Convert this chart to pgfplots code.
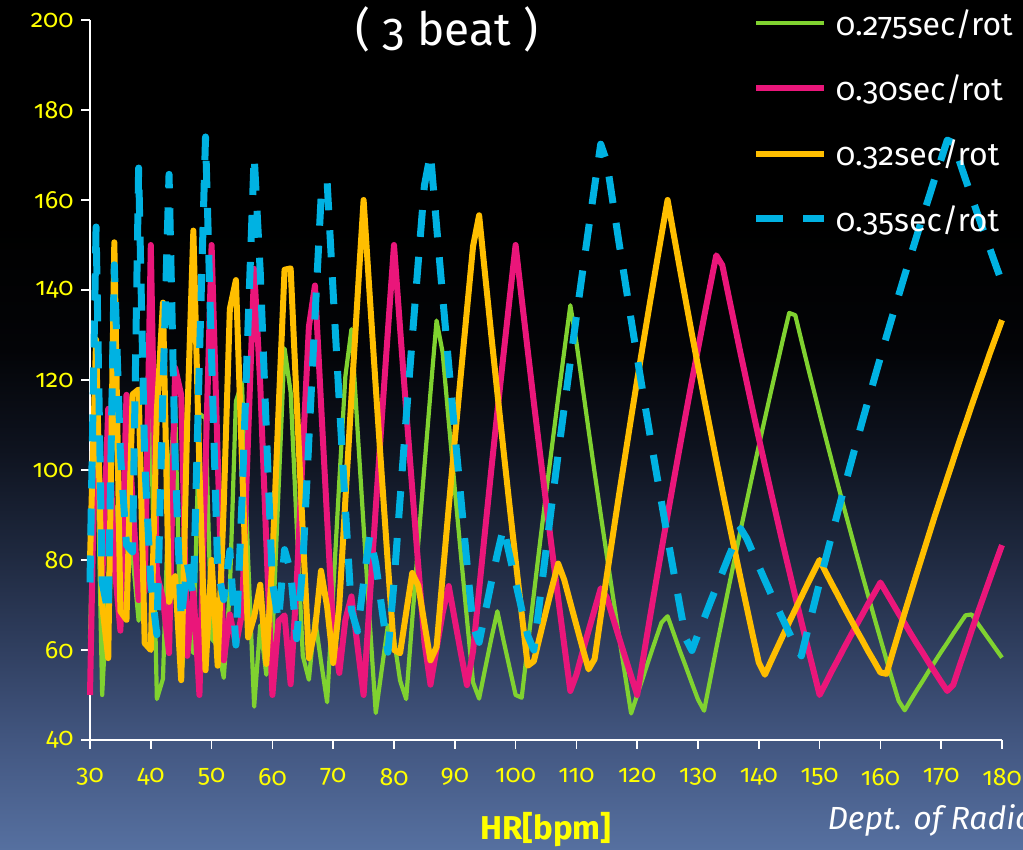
\documentclass[border=0pt]{standalone}
\usepackage{pgfplots}
\pgfplotsset{compat=1.18}
\usepackage{pgfplotstable}
\usepackage{fontspec}
\setmainfont{Fira Sans}[Numbers=OldStyle]

\definecolor{cgreen}{RGB}{128,210,48}
\definecolor{cpink}{RGB}{234,22,122}
\definecolor{cyel}{RGB}{255,190,0}
\definecolor{cblue}{RGB}{0,178,226}
\definecolor{tyel}{RGB}{255,255,0}
\definecolor{bg0}{RGB}{86,112,160}
\definecolor{bg1}{RGB}{66,86,128}
\definecolor{bg2}{RGB}{48,63,96}
\definecolor{bg3}{RGB}{30,40,62}
\definecolor{bg4}{RGB}{14,19,31}
\definecolor{bg5}{RGB}{3,4,7}
\definecolor{bg6}{RGB}{0,0,0}

\pgfdeclareverticalshading{bgshade}{100bp}{color(0bp)=(bg0); color(25bp)=(bg0); color(31.5bp)=(bg1); color(36.8bp)=(bg2); color(42.6bp)=(bg3); color(48.5bp)=(bg4); color(54.4bp)=(bg5); color(62bp)=(bg6); color(75bp)=(bg6); color(100bp)=(bg6)}

\pgfplotstableread{
hr A B C D
30 62.5 50.0 80.0 75.0
31 116.5 121.0 129.0 154.0
32 50.0 75.0 70.0 75.0
33 76.1 113.6 58.2 68.2
34 91.9 79.4 150.6 145.6
35 64.3 64.3 68.6 103.6
36 104.2 116.7 66.7 83.3
37 80.7 93.2 116.8 81.8
38 66.5 71.1 117.9 167.1
39 85.6 73.1 61.5 101.9
40 112.5 150.0 60.0 75.0
41 49.1 76.8 113.2 63.4
42 53.6 71.4 137.2 117.8
43 96.8 59.3 70.7 165.7
44 114.8 122.7 76.4 102.3
45 54.2 116.7 53.3 66.7
46 66.9 58.7 111.3 79.3
47 59.3 73.4 153.2 71.8
48 112.5 50.0 100.0 125.0
49 111.5 101.0 55.5 174.0
50 62.5 150.0 80.0 125.0
51 61.0 102.9 56.5 77.9
52 53.8 57.7 92.3 71.2
53 73.3 67.9 135.8 82.1
54 115.3 61.1 142.2 61.1
55 119.3 68.2 101.8 93.2
56 80.4 107.1 62.8 132.2
57 47.4 144.7 67.4 169.8
58 65.5 119.0 74.5 144.0
59 54.5 83.9 56.9 108.9
60 62.5 50.0 80.0 75.0
61 95.3 66.4 112.8 66.4
62 127.0 67.7 144.5 82.3
63 117.3 52.4 144.8 77.4
64 87.5 75.0 115.0 62.5
65 58.7 103.9 86.1 78.9
66 53.4 131.8 58.2 106.8
67 67.0 141.0 64.5 133.9
68 57.4 114.7 77.6 160.3
69 48.4 89.1 69.6 164.1
70 73.2 64.3 57.1 139.3
71 97.4 54.9 69.9 115.2
72 120.8 66.7 93.3 91.7
73 131.3 71.9 116.2 68.8
74 109.1 60.8 138.4 64.2
75 87.5 50.0 160.0 75.0
76 66.4 71.0 138.9 85.5
77 46.0 91.6 118.4 79.2
78 55.8 111.5 98.5 69.2
79 65.5 131.0 79.0 59.5
80 62.5 150.0 60.0 75.0
81 53.2 131.5 59.3 93.5
82 49.1 113.4 68.3 111.6
83 66.7 95.8 77.1 129.2
84 83.9 78.6 74.3 146.4
85 100.7 61.8 65.9 163.2
86 117.2 52.3 57.7 170.3
87 133.2 60.3 60.7 154.3
88 126.1 68.2 76.4 138.6
89 110.8 74.2 91.7 123.3
90 95.8 66.7 106.7 108.3
91 81.2 59.3 121.3 93.7
92 66.9 52.2 135.6 79.3
93 52.8 59.7 149.7 65.3
94 49.2 73.4 156.6 61.7
95 55.9 86.8 143.2 68.4
96 62.5 100.0 130.0 75.0
97 68.6 112.9 117.1 81.4
98 62.2 125.5 104.5 87.2
99 56.1 137.9 92.1 81.1
100 50.0 150.0 80.0 75.0
101 49.4 138.1 68.1 69.1
102 61.0 126.5 56.5 63.2
103 72.4 115.0 57.5 60.0
104 83.7 103.9 63.1 71.2
105 94.7 92.9 68.6 82.1
106 105.4 82.1 74.0 92.9
107 116.0 71.5 79.2 103.5
108 126.4 61.1 75.6 113.9
109 136.6 50.9 70.5 124.1
110 128.4 54.5 65.5 134.1
111 118.6 59.5 60.5 143.9
112 108.9 64.3 55.7 153.6
113 99.4 69.0 58.0 163.1
114 90.1 73.7 67.4 172.4
115 81.0 71.7 76.5 168.5
116 72.0 67.2 85.5 159.5
117 63.1 62.8 94.4 150.6
118 54.5 58.5 103.0 142.0
119 45.9 54.2 111.6 133.4
120 50.0 50.0 120.0 125.0
121 54.1 58.3 128.3 116.7
122 58.2 66.4 136.4 108.6
123 62.2 74.4 144.4 100.6
124 66.1 82.3 152.3 92.8
125 67.5 90.0 160.0 85.0
126 63.7 97.6 152.4 77.4
127 59.9 105.1 144.9 69.9
128 56.3 112.5 137.5 62.5
129 52.6 119.8 130.2 59.9
130 49.0 126.9 123.1 63.5
131 46.5 134.0 116.0 67.0
132 53.4 140.9 109.1 70.5
133 60.3 147.7 102.2 73.9
134 67.0 145.5 95.5 77.2
135 73.6 138.9 88.9 80.6
136 80.1 132.4 82.4 83.8
137 86.6 125.9 75.9 87.0
138 92.9 119.6 69.6 84.8
139 99.2 113.3 63.3 81.7
140 105.4 107.1 57.2 78.6
141 111.4 101.1 54.5 75.5
142 117.4 95.1 57.5 72.5
143 123.3 89.2 60.4 69.6
144 129.2 83.3 63.3 66.7
145 134.9 77.6 66.2 63.8
146 134.4 71.9 69.0 61.0
147 128.8 66.3 71.8 58.7
148 123.3 60.8 74.6 64.2
149 117.9 55.4 77.3 69.6
150 112.5 50.0 80.0 75.0
151 107.2 52.6 77.3 80.3
152 102.0 55.3 74.7 85.5
153 96.8 57.8 72.2 90.7
154 91.7 60.4 69.6 95.8
155 86.7 62.9 67.1 100.8
156 81.7 65.4 64.6 105.8
157 76.8 67.8 62.2 110.7
158 72.0 70.3 59.7 115.5
159 67.2 72.6 57.4 120.3
160 62.5 75.0 55.0 125.0
161 57.8 72.7 54.7 129.7
162 53.2 70.4 59.3 134.3
163 48.7 68.1 63.8 138.8
164 46.6 65.9 68.3 143.3
165 48.9 63.6 72.7 147.7
166 51.1 61.4 77.1 152.1
167 53.2 59.3 81.4 156.5
168 55.4 57.1 85.7 160.7
169 57.5 55.0 90.0 165.0
170 59.6 52.9 94.1 169.1
171 61.6 50.9 98.2 173.3
172 63.7 52.3 102.3 172.7
173 65.7 56.4 106.4 168.6
174 67.7 60.3 110.3 164.6
175 67.9 64.3 114.3 160.7
176 65.9 68.2 118.2 156.8
177 64.0 72.0 122.0 153.0
178 62.1 75.8 125.9 149.2
179 60.2 79.6 129.6 145.4
180 58.3 83.3 133.3 141.7
}\tdata

\begin{document}
\begin{tikzpicture}[x=1pt,y=1pt]
\shade[shading=bgshade] (0,0) rectangle (1023,850);
\useasboundingbox (0,0) rectangle (1023,850);
\begin{axis}[
  at={(90pt,110pt)}, anchor=south west,
  scale only axis, width=912pt, height=720pt,
  xmin=30, xmax=180, ymin=40, ymax=200,
  xtick={30,40,...,180}, ytick={40,60,...,200},
  axis lines=left,
  axis line style={white, line width=1.5pt, -},
  every tick/.style={white, line width=1.5pt},
  tick align=outside, major tick length=9pt,
  /pgf/number format/assume math mode=true,
  ticklabel style={text=tyel, font=\fontsize{25}{28}\selectfont},
  xticklabel style={yshift=-16pt},
  yticklabel style={xshift=-4pt},
  clip=false,
  legend style={at={(0.7265,1.018)}, anchor=north west, draw=none, fill=none,
    text=white, font=\fontsize{32}{35}\selectfont, row sep=34pt, inner sep=0pt,
    /tikz/every odd column/.append style={column sep=6pt}},
  legend cell align=left,
  legend image code/.code={\draw[#1] (0pt,0pt) -- (68pt,0pt);},
]
\addplot[cgreen, line width=4.2pt, line join=round] table[x=hr,y=A]{\tdata};
\addlegendentry{0.275sec/rot}
\addplot[cpink, line width=6pt, line join=round] table[x=hr,y=B]{\tdata};
\addlegendentry{0.30sec/rot}
\addplot[cyel, line width=6pt, line join=round] table[x=hr,y=C]{\tdata};
\addlegendentry{0.32sec/rot}
\addplot[cblue, line width=7pt, line join=round, dash pattern=on 27pt off 20pt] table[x=hr,y=D]{\tdata};
\addlegendentry{0.35sec/rot}
\end{axis}
\node[text=white, font=\fontsize{46}{50}\selectfont] at (447,821) {( 3 beat )};
\node[text=tyel, font=\bfseries\fontsize{33}{36}\selectfont] at (546,20) {HR[bpm]};
\node[text=white, font=\itshape\fontsize{32}{36}\selectfont, anchor=base west] at (824,20) {Dept. of Radiology};
\end{tikzpicture}
\end{document}
